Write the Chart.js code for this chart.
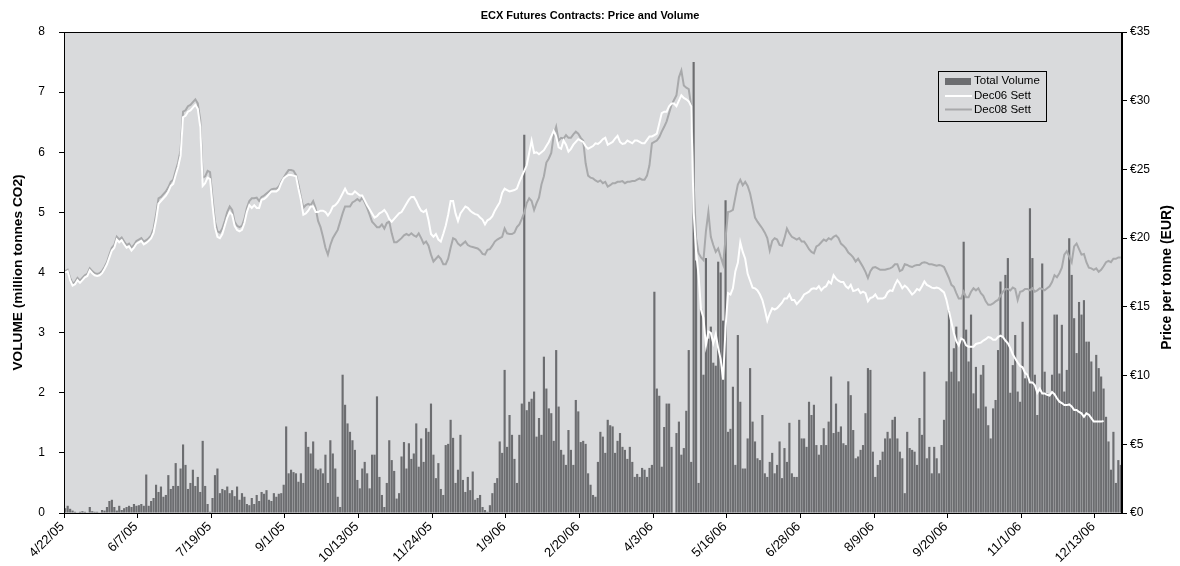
<!DOCTYPE html>
<html lang="en">
<head>
    <meta charset="UTF-8">
    <title>ECX Futures Contracts: Price and Volume</title>
    <script src="https://cdn.jsdelivr.net/npm/chart.js"></script>
    <style>
        body { margin: 0; background: #fff; }
    </style>
</head>
<body>
    <canvas id="chart" width="1180" height="566"></canvas>
    <script>
        // one x tick every 30 trading days
        const tickLabels = ['4/22/05', '6/7/05', '7/19/05', '9/1/05', '10/13/05', '11/24/05', '1/9/06', '2/20/06',
            '4/3/06', '5/16/06', '6/28/06', '8/9/06', '9/20/06', '11/1/06', '12/13/06'];

        // daily total volume, million tonnes CO2
        const volume = [
            0.08,0.12,0.07,0.04,0.02,0.01,0.02,0.03,0.02,0.01, 0.1,0.03,0.02,0.02,0.01,0.05,0.04,0.1,0.2,0.22,
            0.1,0.04,0.12,0.05,0.08,0.1,0.12,0.1,0.15,0.12,
            0.13,0.15,0.12,0.64,0.12, 0.2,0.25,0.47,0.35,0.44, 0.27,0.3,0.63,0.4,0.45, 0.83,0.45,0.74,1.14,0.8,
            0.4,0.5,0.72,0.45,0.6, 0.35,1.2,0.45,0.15,0.02, 0.25,0.63,0.74,0.33,0.4, 0.38,0.44,0.33,0.38,0.28,
            0.44,0.22,0.33,0.27,0.15, 0.13,
            0.25,0.15,0.3,0.2, 0.35,0.32,0.38,0.22,0.2, 0.33,0.27,0.32,0.33,0.47, 1.44,0.66,0.72,0.68,0.66,
            0.52,0.66,0.5,1.35,1.1, 0.99,1.19,0.74,0.72,0.74, 0.66,0.97,0.5,1.21,0.99, 0.74,0.27,0.1,2.3,1.8,
            1.49,1.35,1.21,1.05,0.55, 0.41,0.74,0.85,0.66,0.41, 0.97,0.97,1.94,0.6,0.3, 0.1,0.5,1.21,0.88,0.7,
            0.24,0.33,0.94,1.18,0.74, 1.16,0.9,0.99,1.49,0.77, 1.24,0.85,1.41,1.35,1.82, 0.97,0.58,0.83,
            0.4,0.3,1.13,1.15,1.55, 1.25,0.5,0.72,1.3,0.55, 0.35,0.6,0.38,0.69,0.22, 0.25,0.3,0.1,0.05,0.02,
            0.13,0.33,0.5,0.58,1.19, 1.0,2.38,1.1,1.63,1.3, 0.9,0.5,1.3,1.82,6.29, 1.71,1.85,1.9,2.02,
            1.27,1.58,1.3,2.6,2.07, 1.74,1.66,1.2,2.71,1.77, 1.05,0.97,0.8,1.38,1.05, 0.8,1.88,1.69,1.18,1.2,
            1.15,0.66,0.47,0.3,0.27, 0.85,1.35,1.27,1.0,1.55, 1.46,1.44,1.0,1.2,1.33, 1.1,1.05,0.9,1.1,
            0.85,0.6,0.65,0.6,0.75, 0.72,0.6,0.75,0.8,3.68, 2.07,1.95,0.77,1.43,1.82, 1.82,1.1,0.0,1.33,1.52,
            0.97,1.08,1.7,2.71,0.85, 7.5,4.2,0.5,3.4,2.3, 4.24,2.9,3.1,2.5,2.45, 4.18,4.0,3.2,5.2,
            1.35,1.4,2.1,0.8,2.96, 1.85,0.74,0.74,1.24,2.41, 1.52,1.19,0.91,0.88,1.63, 0.66,0.6,0.85,1.0,0.66,
            0.8,1.19,0.58,1.08,0.85, 1.5,0.66,0.6,0.6,1.55, 1.24,1.24,1.1,1.85,1.63, 1.8,1.13,0.97,
            1.13,1.41,1.13,1.52,2.27, 1.33,1.82,1.35,1.44,1.16, 1.13,2.19,1.96,1.38,0.91, 0.94,1.05,1.13,1.66,2.41,
            2.38,1.02,0.6,0.8,0.88, 1.02,1.24,1.35,1.24,1.55, 1.6,1.24,1.02,0.91,0.33, 1.35,1.08,1.05,1.02,
            0.8,1.58,1.3,2.35,0.91, 1.1,0.66,1.1,0.91,0.66, 1.13,1.55,2.19,3.38,2.35, 2.74,3.1,2.19,2.9,4.51,
            3.05,2.52,3.3,1.99,2.43, 1.74,2.3,2.46,1.77,1.46, 1.24,1.74,1.88,2.71,3.85, 2.93,3.96,4.24,
            2.0,2.46,2.96,2.02,1.85, 3.18,2.24,2.3,5.07,4.24, 2.3,1.63,2.02,4.15,2.35, 1.99,1.96,2.3,3.3,3.3,
            2.32,3.13,2.02,2.38,4.57, 3.96,3.24,2.66,3.51,3.3, 3.54,2.85,2.85,2.52,2.02, 2.63,2.41,2.27,2.07,1.6,
            1.19,0.72,1.35,0.5,0.88,0.8
        ];

        // Dec06 settlement, EUR per tonne (contract expired mid-December 2006)
        const dec06 = [
            17.5,17.6,16.95,16.55,16.65, 16.95,16.75,16.95,17.15,17.25, 17.65,17.45,17.3,17.25,17.3,
            17.45,17.75,18.1,18.6,19.1, 19.3,19.9,19.7,19.85,19.55, 19.3,19.4,19.1,19.3,19.6,
            19.7,19.8,19.55,19.65,19.8, 20.0,20.4,
            21.3,22.5,22.7, 22.9,23.1,23.4,23.8,23.95, 24.6,25.2,26.0,28.8,28.9, 29.2,29.3,29.5,29.7,29.4,
            28.1,23.8,24.0,24.4,24.3, 22.4,20.8,20.1,20.0,20.3, 20.9,21.5,21.9,21.7,20.9, 20.6,20.5,20.6,21.1,21.9,
            22.4,
            22.2,22.4,22.2,22.2, 22.8,22.85,23.0,23.2,23.4, 23.4,23.4,23.55,24.0,24.35, 24.5,24.6,24.6,24.55,24.5,
            23.6,22.8,21.7,21.8,22.0, 22.3,22.3,21.9,21.9,22.0, 22.0,21.9,21.65,21.9,22.3, 22.4,22.6,22.9,23.25,23.6,
            23.25,23.2,23.2,23.4,23.25, 23.1,23.1,22.75,22.4,22.1, 21.8,21.5,21.6,21.8,21.9, 22.05,21.8,21.4,21.2,21.4,
            21.6,21.8,21.9,22.2,22.5, 22.8,23.0,23.0,22.7,22.3, 22.0,21.9,22.05,21.3,20.3, 20.1,20.3,19.9,19.75,
            20.3,20.9,21.7,22.7,22.7, 21.8,21.25,21.8,22.05,22.3, 22.2,22.0,21.85,21.75,21.7, 21.5,21.35,21.0,21.3,21.4,
            21.6,22.0,22.3,22.6,23.3, 23.6,23.5,23.4,23.45,23.5, 23.6,24.1,24.5,24.9,25.3, 26.2,27.1,26.2,
            26.25,26.1,26.25,26.4,26.7, 27.0,27.4,27.8,27.4,26.6, 26.5,27.1,26.8,26.3,26.5, 26.8,27.0,27.2,27.1,27.0,
            26.7,26.5,26.6,26.7,26.9, 26.85,27.0,27.2,27.3,26.8, 26.9,27.0,27.25,27.45,27.0, 26.85,26.9,27.1,27.0,
            26.9,27.1,27.1,27.0,26.9, 26.9,27.15,27.4,27.4,27.5, 27.6,28.35,29.1,29.2,29.2, 29.6,29.8,29.8,29.6,30.0,
            30.4,30.2,30.1,29.95,29.6, 21.9,19.0,17.3,14.8,14.2, 12.2,13.2,13.1,12.35,13.0, 12.0,11.2,9.7,13.5,
            16.0,15.9,16.35,17.6,18.2, 19.7,19.0,18.5,17.4,16.9, 16.4,16.35,16.2,15.9,15.5, 14.8,14.0,14.5,14.9,14.8,
            14.9,15.1,15.3,15.6,15.6, 15.9,15.5,15.5,15.2,15.4, 15.6,15.9,16.0,16.1,16.3, 16.35,16.3,16.5,
            16.2,16.4,16.5,16.85,16.7, 17.3,17.05,16.9,16.8,16.8, 16.5,16.35,16.6,16.15,16.2, 16.3,16.0,16.1,16.0,15.4,
            15.65,15.7,15.9,15.6,15.6, 15.6,15.7,16.05,16.2,16.15, 16.6,16.95,16.7,16.35,16.55, 16.4,16.15,15.9,16.05,
            16.3,16.2,16.5,16.85,16.6, 16.5,16.4,16.35,16.4,16.35, 16.2,16.05,15.5,14.7,13.9, 13.1,12.5,12.2,12.7,12.6,
            12.2,12.1,12.1,12.1,12.3, 12.35,12.4,12.55,12.65,12.8, 12.75,12.6,12.6,12.8,12.9, 12.8,12.55,12.35,
            12.0,11.55,11.25,10.95,10.7, 10.6,10.2,10.05,9.5,9.5, 9.3,8.75,9.05,8.7,8.7, 8.6,8.55,8.8,8.65,8.35,
            8.1,8.0,7.85,7.85,7.9, 7.75,7.5,7.5,7.35,7.25, 7.0,7.25,7.15,6.9,6.65, 6.65,6.65,6.65,6.7
        ];

        // Dec08 settlement, EUR per tonne
        const dec08 = [
            17.6,17.7,17.1,16.7,16.8, 17.1,16.9,17.1,17.3,17.4, 17.8,17.6,17.45,17.4,17.45,
            17.6,17.9,18.25,18.8,19.3, 19.5,20.1,19.9,20.05,19.75, 19.5,19.6,19.3,19.5,19.8,
            19.9,20.0,19.75,19.85,20.0, 20.2,20.7,
            21.7,22.9,23.0, 23.2,23.4,23.7,24.1,24.25, 24.9,25.5,26.4,29.2,29.3, 29.6,29.7,29.9,30.1,29.8,
            28.6,24.4,24.5,24.9,24.8, 22.9,21.2,20.5,20.4,20.7, 21.25,21.9,22.3,22.05,21.2, 20.9,20.8,20.9,21.4,22.2,
            22.7,
            22.9,22.9,22.95,22.7, 23.0,23.1,23.25,23.4,23.55, 23.6,23.6,23.75,24.1,24.4, 24.7,24.95,24.95,24.9,24.6,
            23.9,23.0,22.2,22.4,22.5, 22.4,22.7,22.2,21.25,20.8, 20.1,19.3,18.8,19.5,20.0, 20.3,20.6,21.2,21.8,22.3,
            22.3,22.3,22.6,22.7,22.85, 22.7,22.95,22.6,22.2,21.7, 21.2,21.0,20.8,20.8,21.0, 20.7,21.1,21.2,20.35,19.7,
            19.7,19.85,20.0,20.2,20.3, 20.2,20.35,20.2,20.1,20.35, 20.0,19.6,19.75,19.45,18.8, 18.3,18.5,18.7,18.5,
            18.1,18.1,18.5,19.3,20.0, 19.9,19.6,19.45,19.6,19.75, 19.5,19.4,19.35,19.3,19.25, 19.1,18.85,18.8,19.15,19.2,
            19.45,19.75,19.9,20.0,20.1, 20.7,20.35,20.3,20.3,20.4, 20.8,21.0,21.4,21.85,22.55, 22.9,22.7,22.05,
            22.55,22.95,23.9,24.5,25.5, 25.8,26.2,27.5,28.1,27.1, 27.3,27.25,27.5,27.3,27.3, 27.55,27.75,27.6,27.3,27.1,
            25.45,24.55,24.4,24.35,24.2, 24.1,24.2,24.0,24.1,23.75, 23.85,24.0,24.0,24.1,24.1, 24.15,24.0,24.1,24.1,
            24.15,24.15,24.25,24.35,24.25, 24.25,24.55,25.3,26.9,27.0, 27.1,27.35,27.75,28.1,28.5, 29.1,29.7,30.05,30.4,31.7,
            32.2,31.1,30.95,30.85,29.6, 24.1,20.0,18.9,18.6,18.4, 20.5,21.9,20.1,19.5,19.0, 19.25,18.65,18.1,20.0,
            21.9,21.95,22.05,23.0,23.9, 24.25,23.85,24.1,23.8,23.25, 22.4,21.5,21.2,20.95,20.7, 20.4,20.0,19.1,19.8,20.0,
            19.9,19.5,19.45,20.0,20.7, 20.35,20.1,20.0,19.9,20.0, 19.75,19.75,19.5,19.2,19.0, 18.9,19.4,19.5,
            19.7,19.9,19.8,20.0,19.9, 20.1,20.2,20.0,19.6,19.45, 19.25,18.95,18.8,18.6,18.3, 18.5,18.2,17.9,17.55,17.1,
            17.6,17.85,17.9,17.8,17.7, 17.7,17.7,17.75,17.8,17.9, 18.1,18.1,17.6,17.7,18.1, 18.05,17.95,17.9,18.0,
            18.05,18.05,18.2,18.25,18.2, 18.1,18.1,18.05,18.0,18.05, 18.0,17.9,17.5,17.1,16.6, 16.45,16.0,15.6,15.6,16.1,
            15.7,15.7,16.1,16.35,16.2, 16.35,16.0,15.8,15.4,15.15, 15.15,15.25,15.4,15.5,15.8, 16.1,16.3,16.3,
            16.2,16.4,16.3,15.5,16.1, 16.15,16.3,16.3,16.2,16.35, 16.1,16.2,16.35,16.3,16.2, 16.35,16.5,16.8,17.3,17.15,
            17.45,17.85,18.8,19.05,18.65, 18.25,19.4,19.6,19.2,18.8, 18.85,18.25,17.85,17.8,17.7, 17.8,17.55,17.7,17.95,18.25,
            18.35,18.25,18.5,18.5,18.6, 18.6
        ];

        const categories = volume.map((v, i) => i % 30 === 0 ? tickLabels[i / 30] : '');

        const FONT = "'Liberation Sans', Arial, sans-serif";
        const plotBg = '#d9dadc';
        const barColor = '#6c6d70';
        const dec08Color = '#a8a9ab';

        // plot background, frame, legend box and right axis title
        const decorations = {
            id: 'decorations',
            beforeDraw(chart) {
                const { ctx, chartArea: a } = chart;
                ctx.save();
                ctx.fillStyle = '#fff';
                ctx.fillRect(0, 0, chart.width, chart.height);
                ctx.fillStyle = plotBg;
                ctx.fillRect(a.left, a.top, a.right - a.left, a.bottom - a.top);
                ctx.restore();
            },
            afterDatasetsDraw(chart) {
                const { ctx } = chart;
                const x = 938.5, y = 71.5, w = 108, h = 50;
                ctx.save();
                ctx.strokeStyle = '#000';
                ctx.lineWidth = 1;
                ctx.strokeRect(x, y, w, h);
                ctx.font = '11.5px ' + FONT;
                ctx.textBaseline = 'middle';
                ctx.fillStyle = barColor;
                ctx.fillRect(945, 78, 26, 7);
                ctx.lineWidth = 2;
                ctx.strokeStyle = '#fff';
                ctx.beginPath(); ctx.moveTo(945, 96); ctx.lineTo(972, 96); ctx.stroke();
                ctx.strokeStyle = dec08Color;
                ctx.beginPath(); ctx.moveTo(945, 109.5); ctx.lineTo(972, 109.5); ctx.stroke();
                ctx.fillStyle = '#000';
                ctx.fillText('Total Volume', 974, 81);
                ctx.fillText('Dec06 Sett', 974, 96);
                ctx.fillText('Dec08 Sett', 974, 109.5);
                ctx.restore();
            },
            afterDraw(chart) {
                const { ctx, chartArea: a } = chart;
                ctx.save();
                ctx.strokeStyle = '#000';
                ctx.lineWidth = 1;
                ctx.strokeRect(Math.round(a.left) + 0.5, Math.round(a.top) + 0.5,
                    Math.round(a.right - a.left) - 1, Math.round(a.bottom - a.top));
                ctx.translate(1167, (a.top + a.bottom) / 2 + 5);
                ctx.rotate(-Math.PI / 2);
                ctx.font = 'bold 14px ' + FONT;
                ctx.fillStyle = '#000';
                ctx.textAlign = 'center';
                ctx.textBaseline = 'middle';
                ctx.fillText('Price per tonne (EUR)', 0, 0);
                ctx.restore();
            }
        };

        const ctx = document.getElementById('chart').getContext('2d');
        const chart = new Chart(ctx, {
            type: 'bar',
            data: {
                labels: categories,
                datasets: [
                    {
                        type: 'line',
                        label: 'Dec06 Sett',
                        data: dec06,
                        yAxisID: 'y1',
                        borderColor: '#ffffff',
                        borderWidth: 2,
                        pointRadius: 0,
                        order: 0
                    },
                    {
                        type: 'line',
                        label: 'Dec08 Sett',
                        data: dec08,
                        yAxisID: 'y1',
                        borderColor: dec08Color,
                        borderWidth: 2,
                        pointRadius: 0,
                        order: 1
                    },
                    {
                        label: 'Total Volume',
                        data: volume,
                        yAxisID: 'y',
                        backgroundColor: barColor,
                        categoryPercentage: 1,
                        barPercentage: 0.88,
                        order: 2
                    }
                ]
            },
            options: {
                responsive: false,
                animation: false,
                events: [],
                layout: { padding: 0 },
                plugins: {
                    legend: { display: false },
                    tooltip: { enabled: false },
                    title: {
                        display: true,
                        text: 'ECX Futures Contracts: Price and Volume',
                        color: '#000',
                        font: { family: FONT, size: 11, weight: 'bold' },
                        padding: { top: 9, bottom: 9.8 }
                    }
                },
                scales: {
                    x: {
                        grid: {
                            offset: true,
                            drawOnChartArea: false,
                            tickLength: 5,
                            tickColor: c => (c.index % 30 === 0 ? '#000' : 'rgba(0,0,0,0)')
                        },
                        border: { color: '#000' },
                        ticks: {
                            autoSkip: false,
                            minRotation: 45,
                            maxRotation: 45,
                            padding: 1,
                            labelOffset: -3,
                            color: '#000',
                            font: { family: FONT, size: 13 }
                        },
                        afterFit: s => { s.height = 53; }
                    },
                    y: {
                        position: 'left',
                        min: 0,
                        max: 8,
                        ticks: { stepSize: 1, color: '#000', padding: 14, font: { family: FONT, size: 12 } },
                        grid: { drawOnChartArea: false, tickLength: 5, color: '#000' },
                        border: { color: '#000' },
                        title: {
                            display: true,
                            text: 'VOLUME (million tonnes CO2)',
                            color: '#000',
                            font: { family: FONT, size: 13.7, weight: 'bold' },
                            padding: { top: 10, bottom: 0 }
                        },
                        afterFit: s => { s.width = 64; }
                    },
                    y1: {
                        position: 'right',
                        min: 0,
                        max: 35,
                        ticks: {
                            stepSize: 5,
                            color: '#000',
                            padding: 3,
                            font: { family: FONT, size: 12 },
                            callback: v => '€' + v
                        },
                        grid: { drawOnChartArea: false, tickLength: 5, color: '#000' },
                        border: { color: '#000' },
                        afterFit: s => { s.width = 58; }
                    }
                }
            },
            plugins: [decorations]
        });
    </script>
</body>
</html>
